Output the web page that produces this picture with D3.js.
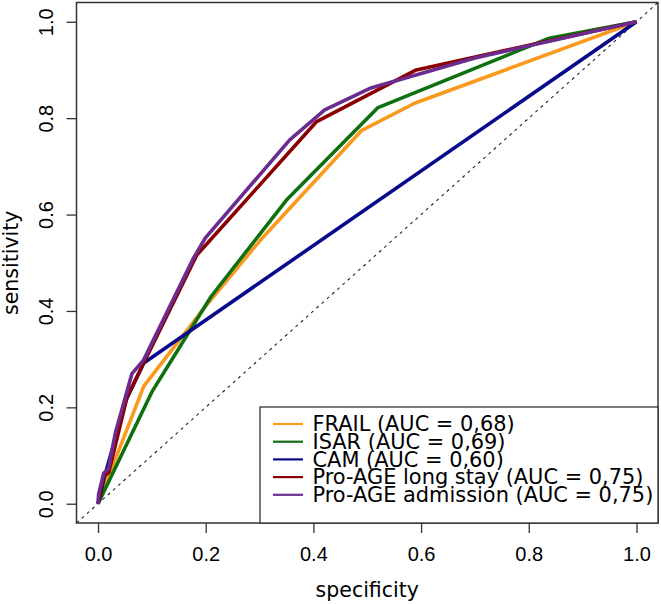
<!DOCTYPE html>
<html>
<head>
<meta charset="utf-8">
<script src="https://cdn.jsdelivr.net/npm/d3@7"></script>
<style>
  body { margin: 0; background: #fff; }
  svg { display: block; }
</style>
</head>
<body>
<div id="chart"></div>
<script>
// ROC curves: x = "specificity" axis value (as printed), y = sensitivity
const seriesNames = [
    "FRAIL (AUC = 0,68)",
    "ISAR (AUC = 0,69)",
    "CAM (AUC = 0,60)",
    "Pro-AGE long stay (AUC = 0,75)",
    "Pro-AGE admission (AUC = 0,75)"
];
const seriesColors = ["#F99A1E", "#0E700E", "#0A0A8C", "#8B0000", "#6B2B8F"];

const frailX = [0, 0.085, 0.20, 0.30, 0.489, 0.588, 1];
const frailY = [0, 0.244, 0.41, 0.545, 0.774, 0.831, 1];

const isarX = [0, 0.10, 0.21, 0.35, 0.52, 0.838, 1];
const isarY = [0, 0.232, 0.43, 0.63, 0.822, 0.966, 1];

const camX = [0, 0.012, 0.052, 0.085, 1];
const camY = [0, 0.056, 0.215, 0.292, 1];

const longStayX = [0, 0.010, 0.020, 0.054, 0.1835, 0.406, 0.591, 1];
const longStayY = [0, 0.056, 0.065, 0.222, 0.516, 0.793, 0.900, 1];

const admissionX = [0, 0.001, 0.0104, 0.0196, 0.032, 0.063, 0.0845, 0.177, 0.199, 0.356, 0.421, 0.505, 0.70, 1];
const admissionY = [0, 0.02, 0.063, 0.073, 0.146, 0.27, 0.298, 0.509, 0.551, 0.755, 0.817, 0.862, 0.925, 1];

const tickValues = [0, 0.2, 0.4, 0.6, 0.8, 1.0];

const seriesX = [frailX, isarX, camX, longStayX, admissionX];
const seriesY = [frailY, isarY, camY, longStayY, admissionY];

const width = 661, height = 604;
const plot = { left: 76.5, top: 2.5, right: 658, bottom: 523 };

const svg = d3.select("#chart").append("svg")
    .attr("width", width)
    .attr("height", height);

// R-style 4% padding around data range
const x = d3.scaleLinear().domain([-0.04, 1.04]).range([plot.left, plot.right]);
const y = d3.scaleLinear().domain([-0.04, 1.04]).range([plot.bottom, plot.top]);

svg.append("clipPath").attr("id", "clip")
    .append("rect")
    .attr("x", plot.left).attr("y", plot.top)
    .attr("width", plot.right - plot.left)
    .attr("height", plot.bottom - plot.top);

// diagonal reference line
svg.append("line")
    .attr("clip-path", "url(#clip)")
    .attr("x1", x(-0.04)).attr("y1", y(-0.04))
    .attr("x2", x(1.04)).attr("y2", y(1.04))
    .attr("stroke", "#222")
    .attr("stroke-width", 1.1)
    .attr("stroke-dasharray", "3,4");

// curves
const line = d3.line().x(d => x(d[0])).y(d => y(d[1]));
seriesX.forEach((xs, i) => {
    const pts = xs.map((v, j) => [v, seriesY[i][j]]);
    svg.append("path")
        .datum(pts)
        .attr("clip-path", "url(#clip)")
        .attr("fill", "none")
        .attr("stroke", seriesColors[i])
        .attr("stroke-width", 3.6)
        .attr("stroke-linejoin", "round")
        .attr("d", line);
});

// axes
const tickFont = "'Liberation Sans', Arial, sans-serif";
const xAxis = svg.append("g")
    .attr("transform", `translate(0,${plot.bottom})`)
    .call(d3.axisBottom(x).tickValues(tickValues).tickSize(10).tickPadding(14).tickFormat(d3.format(".1f")));
xAxis.select(".domain").remove();
xAxis.selectAll("line").attr("stroke", "#333").attr("stroke-width", 1.3);
xAxis.selectAll("text")
    .attr("fill", "#000")
    .style("font-family", tickFont)
    .style("font-size", "20px");

const yAxis = svg.append("g")
    .attr("transform", `translate(${plot.left},0)`)
    .call(d3.axisLeft(y).tickValues(tickValues).tickSize(10).tickFormat(d3.format(".1f")));
yAxis.select(".domain").remove();
yAxis.selectAll("line").attr("stroke", "#333").attr("stroke-width", 1.3);
yAxis.selectAll("text")
    .attr("fill", "#000")
    .attr("x", null).attr("dy", null)
    .attr("text-anchor", "middle")
    .attr("transform", "translate(-23.5,0) rotate(-90)")
    .style("font-family", tickFont)
    .style("font-size", "20px");

// plot box
svg.append("rect")
    .attr("x", plot.left).attr("y", plot.top)
    .attr("width", plot.right - plot.left)
    .attr("height", plot.bottom - plot.top)
    .attr("fill", "none")
    .attr("stroke", "#333")
    .attr("stroke-width", 1.5);

// axis titles
const titleFont = "'DejaVu Sans', Verdana, sans-serif";
svg.append("text")
    .attr("x", (plot.left + plot.right) / 2)
    .attr("y", 597)
    .attr("text-anchor", "middle")
    .style("font-family", titleFont)
    .style("font-size", "20.5px")
    .text("specificity");

svg.append("text")
    .attr("transform", `translate(17.5,${(plot.top + plot.bottom) / 2}) rotate(-90)`)
    .attr("text-anchor", "middle")
    .style("font-family", titleFont)
    .style("font-size", "20.5px")
    .text("sensitivity");

// legend
const legend = svg.append("g");
legend.append("rect")
    .attr("x", 260).attr("y", 407)
    .attr("width", plot.right - 260)
    .attr("height", plot.bottom - 407)
    .attr("fill", "#fff")
    .attr("stroke", "#222")
    .attr("stroke-width", 1.2);

seriesNames.forEach((name, i) => {
    const ly = 424 + i * 17.7;
    legend.append("line")
        .attr("x1", 273).attr("x2", 303)
        .attr("y1", ly).attr("y2", ly)
        .attr("stroke", seriesColors[i])
        .attr("stroke-width", 2.2);
    legend.append("text")
        .attr("x", 312.5)
        .attr("y", ly + 7.2)
        .style("font-family", titleFont)
        .style("font-size", "20.9px")
        .attr("fill", "#000")
        .text(name);
});
</script>
</body>
</html>
